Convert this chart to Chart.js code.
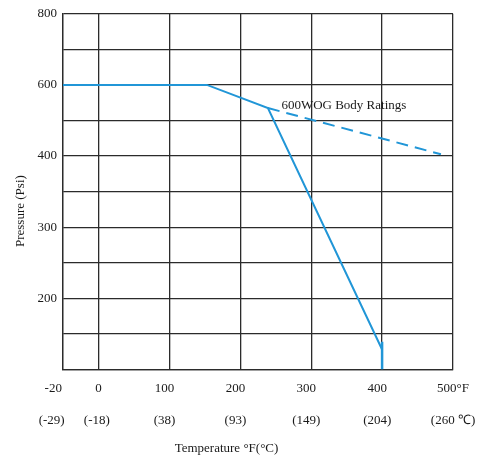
<!DOCTYPE html>
<html>
<head>
<meta charset="utf-8">
<script src="https://cdn.jsdelivr.net/npm/chart.js@4"></script>
<style>
  html, body { margin: 0; padding: 0; background: #fff; }
  #wrap { width: 481px; height: 461px; }
</style>
</head>
<body>
<div id="wrap"><canvas id="chart" width="481" height="461"></canvas></div>
<script>
// tick labels
var xTickTemps = [-20, 0, 100, 200, 300, 400, 500];
var xTickLabelsF = ['-20', '0', '100', '200', '300', '400', '500°F'];
var xTickLabelsC = ['(-29)', '(-18)', '(38)', '(93)', '(149)', '(204)', '(260 ℃)'];
var yTickPsi = [100, 150, 200, 250, 300, 350, 400, 500, 600, 700, 800];
var yTickLabels = ['', '', '200', '', '300', '', '400', '', '600', '', '800'];

// rating curve (°F, psi)
var ratingTemp = [-20, 153, 239, 400];
var ratingPsi = [600, 600, 535, 128];
// dashed body rating
var bodyTemp = [239, 483];
var bodyPsi = [535, 405];
// limit at 400°F
var limitTemp = [400, 400];
var limitPsi = [100, 139];

var noteText = '600WOG Body Ratings';
var noteTemp = 258;
var notePsi = 541;

// the grid is not linear: -20..0 takes half a cell, 400 psi and down use 50 psi per cell
function fPos(f) { return f < 0 ? f / 40 : f / 100; }
function pPos(p) { return p <= 400 ? (p - 100) / 50 : 6 + (p - 400) / 100; }

function toPoints(temps, psis) {
    return temps.map(function(t, i) { return { x: fPos(t), y: pPos(psis[i]) }; });
}

// labels in the original sit a little left of their grid line
function nudge(s, n) { return s + ' '.repeat(n); }

var blue = '#2196d7';
var gridColor = '#2b2b2b';
var textColor = '#1a1a1a';
var serif = 'Liberation Serif';

var notePlugin = {
    id: 'note',
    afterDatasetsDraw: function(chart) {
        var ctx = chart.ctx;
        var xs = chart.scales.x, ys = chart.scales.y;
        ctx.save();
        ctx.font = '13px "' + serif + '"';
        ctx.fillStyle = textColor;
        ctx.textBaseline = 'middle';
        ctx.textAlign = 'left';
        ctx.fillText(noteText, xs.getPixelForValue(fPos(noteTemp)), ys.getPixelForValue(pPos(notePsi)));
        ctx.restore();
    }
};

new Chart(document.getElementById('chart').getContext('2d'), {
    type: 'line',
    data: {
        datasets: [{
            data: toPoints(ratingTemp, ratingPsi),
            borderColor: blue,
            borderWidth: 2
        }, {
            data: toPoints(bodyTemp, bodyPsi),
            borderColor: blue,
            borderWidth: 2,
            borderDash: [12, 7]
        }, {
            data: toPoints(limitTemp, limitPsi),
            borderColor: blue,
            borderWidth: 2.5
        }]
    },
    options: {
        responsive: false,
        animation: false,
        layout: { padding: { left: 0, right: 28, top: 13, bottom: 0 } },
        elements: { point: { radius: 0 }, line: { tension: 0 } },
        plugins: {
            legend: { display: false },
            tooltip: { enabled: false },
            title: {
                display: true,
                position: 'bottom',
                text: 'Temperature °F(°C)',
                color: textColor,
                font: { family: serif, size: 13, weight: 'normal' },
                padding: { top: 0, bottom: 5 }
            }
        },
        scales: {
            x: {
                type: 'linear',
                min: fPos(-20),
                max: fPos(500),
                afterBuildTicks: function(s) {
                    s.ticks = xTickTemps.map(function(t) { return { value: fPos(t) }; });
                },
                afterFit: function(s) { s.height = 71; },
                grid: { color: gridColor, lineWidth: 1.3, drawTicks: false },
                border: { color: gridColor, width: 1.3 },
                ticks: {
                    autoSkip: false,
                    maxRotation: 0,
                    padding: 3,
                    color: textColor,
                    font: { family: serif, size: 13, lineHeight: 2.46 },
                    callback: function(v, i) {
                        if (i === 0) return [nudge(xTickLabelsF[i], 6), nudge(xTickLabelsC[i], 7)];
                        if (i === 1) return [xTickLabelsF[i], nudge(xTickLabelsC[i], 1)];
                        if (i === xTickTemps.length - 1) return [xTickLabelsF[i], xTickLabelsC[i]];
                        return [nudge(xTickLabelsF[i], 3), nudge(xTickLabelsC[i], 3)];
                    }
                }
            },
            y: {
                type: 'linear',
                min: pPos(100),
                max: pPos(800),
                afterBuildTicks: function(s) {
                    s.ticks = yTickPsi.map(function(p) { return { value: pPos(p) }; });
                },
                afterFit: function(s) { s.width = 63; },
                grid: { color: gridColor, lineWidth: 1.3, drawTicks: false },
                border: { color: gridColor, width: 1.3 },
                ticks: {
                    autoSkip: false,
                    padding: 6,
                    color: textColor,
                    font: { family: serif, size: 13 },
                    callback: function(v, i) { return yTickLabels[i]; }
                },
                title: {
                    display: true,
                    text: 'Pressure (Psi)' + '            ',
                    color: textColor,
                    font: { family: serif, size: 13 },
                    padding: { top: 13, bottom: 0 }
                }
            }
        }
    },
    plugins: [notePlugin]
});
</script>
</body>
</html>
